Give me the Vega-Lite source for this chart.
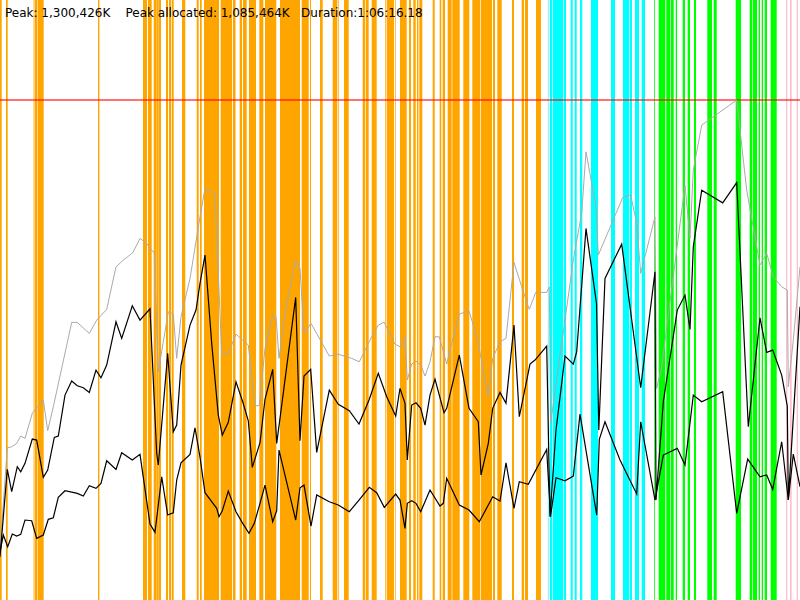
{
  "$schema": "https://vega.github.io/schema/vega-lite/v6.json",
  "width": 800,
  "height": 600,
  "autosize": {"type": "none"},
  "padding": 0,
  "background": "white",
  "config": {"view": {"stroke": null}},
  "datasets": {
    "bars": [
      {"start": 0, "end": 1.7, "phase": "phase1"},
      {"start": 6, "end": 7.7, "phase": "phase1"},
      {"start": 33.6, "end": 34.3, "phase": "phase1"},
      {"start": 34.7, "end": 37.3, "phase": "phase1"},
      {"start": 37.7, "end": 43.7, "phase": "phase1"},
      {"start": 98, "end": 99.4, "phase": "phase1"},
      {"start": 143, "end": 147, "phase": "phase1"},
      {"start": 148, "end": 151.7, "phase": "phase1"},
      {"start": 153.7, "end": 156.7, "phase": "phase1"},
      {"start": 157, "end": 158.7, "phase": "phase1"},
      {"start": 159, "end": 161, "phase": "phase1"},
      {"start": 166, "end": 168, "phase": "phase1"},
      {"start": 169, "end": 171, "phase": "phase1"},
      {"start": 171.7, "end": 173.7, "phase": "phase1"},
      {"start": 182, "end": 185.3, "phase": "phase1"},
      {"start": 196.7, "end": 198.7, "phase": "phase1"},
      {"start": 200, "end": 201.7, "phase": "phase1"},
      {"start": 204, "end": 219, "phase": "phase1"},
      {"start": 220.7, "end": 232, "phase": "phase1"},
      {"start": 232.9, "end": 235.5, "phase": "phase1"},
      {"start": 239.7, "end": 242, "phase": "phase1"},
      {"start": 243, "end": 246.7, "phase": "phase1"},
      {"start": 249, "end": 256, "phase": "phase1"},
      {"start": 259.3, "end": 263.3, "phase": "phase1"},
      {"start": 265, "end": 276.3, "phase": "phase1"},
      {"start": 280, "end": 300, "phase": "phase1"},
      {"start": 301.7, "end": 308.7, "phase": "phase1"},
      {"start": 310, "end": 311, "phase": "phase1"},
      {"start": 320, "end": 322.7, "phase": "phase1"},
      {"start": 332.7, "end": 337.3, "phase": "phase1"},
      {"start": 338, "end": 338.7, "phase": "phase1"},
      {"start": 344, "end": 348.7, "phase": "phase1"},
      {"start": 362.7, "end": 365, "phase": "phase1"},
      {"start": 365.7, "end": 368.7, "phase": "phase1"},
      {"start": 371.7, "end": 376.7, "phase": "phase1"},
      {"start": 385.2, "end": 385.9, "phase": "phase1"},
      {"start": 386.7, "end": 394, "phase": "phase1"},
      {"start": 395, "end": 395.7, "phase": "phase1"},
      {"start": 400, "end": 406.7, "phase": "phase1"},
      {"start": 409, "end": 411, "phase": "phase1"},
      {"start": 413.3, "end": 415.7, "phase": "phase1"},
      {"start": 417, "end": 418.4, "phase": "phase1"},
      {"start": 419.3, "end": 422.3, "phase": "phase1"},
      {"start": 432.7, "end": 434.7, "phase": "phase1"},
      {"start": 439.7, "end": 441.3, "phase": "phase1"},
      {"start": 442.7, "end": 445, "phase": "phase1"},
      {"start": 447.7, "end": 451.7, "phase": "phase1"},
      {"start": 452.3, "end": 459.7, "phase": "phase1"},
      {"start": 463.3, "end": 469.3, "phase": "phase1"},
      {"start": 472.3, "end": 480, "phase": "phase1"},
      {"start": 480.7, "end": 492, "phase": "phase1"},
      {"start": 493, "end": 495, "phase": "phase1"},
      {"start": 497.3, "end": 501.7, "phase": "phase1"},
      {"start": 512, "end": 514, "phase": "phase1"},
      {"start": 521.7, "end": 524, "phase": "phase1"},
      {"start": 525, "end": 528, "phase": "phase1"},
      {"start": 536, "end": 541, "phase": "phase1"},
      {"start": 547.9, "end": 548.5, "phase": "phase2"},
      {"start": 550, "end": 552, "phase": "phase2"},
      {"start": 552.7, "end": 563.3, "phase": "phase2"},
      {"start": 564, "end": 566, "phase": "phase2"},
      {"start": 570.7, "end": 572.7, "phase": "phase2"},
      {"start": 574.7, "end": 576.7, "phase": "phase2"},
      {"start": 580, "end": 582.3, "phase": "phase2"},
      {"start": 591, "end": 598, "phase": "phase2"},
      {"start": 611, "end": 615, "phase": "phase2"},
      {"start": 623, "end": 629.3, "phase": "phase2"},
      {"start": 630, "end": 632, "phase": "phase2"},
      {"start": 635, "end": 639, "phase": "phase2"},
      {"start": 641.7, "end": 645, "phase": "phase2"},
      {"start": 654.2, "end": 655, "phase": "phase3"},
      {"start": 658.7, "end": 665.3, "phase": "phase3"},
      {"start": 666.3, "end": 670.3, "phase": "phase3"},
      {"start": 671, "end": 673.7, "phase": "phase3"},
      {"start": 675.7, "end": 677, "phase": "phase3"},
      {"start": 682.7, "end": 685, "phase": "phase3"},
      {"start": 687.7, "end": 690, "phase": "phase3"},
      {"start": 694, "end": 696, "phase": "phase3"},
      {"start": 707.3, "end": 712, "phase": "phase3"},
      {"start": 713.7, "end": 716.7, "phase": "phase3"},
      {"start": 735.7, "end": 741, "phase": "phase3"},
      {"start": 749.7, "end": 752, "phase": "phase3"},
      {"start": 752.7, "end": 757, "phase": "phase3"},
      {"start": 758.7, "end": 760, "phase": "phase3"},
      {"start": 761.7, "end": 763, "phase": "phase3"},
      {"start": 764.7, "end": 767, "phase": "phase3"},
      {"start": 770.7, "end": 776.7, "phase": "phase3"},
      {"start": 786, "end": 787.3, "phase": "phase4"},
      {"start": 790, "end": 791.7, "phase": "phase4"},
      {"start": 796.7, "end": 798, "phase": "phase4"}
    ],
    "memory": [
      {"series": "peak", "t": 0, "mem": 130},
      {"series": "peak", "t": 7.3, "mem": 396.0},
      {"series": "peak", "t": 11.7, "mem": 398.6},
      {"series": "peak", "t": 16.7, "mem": 407.4},
      {"series": "peak", "t": 20.7, "mem": 426.4},
      {"series": "peak", "t": 25, "mem": 420.4},
      {"series": "peak", "t": 32.3, "mem": 485.4},
      {"series": "peak", "t": 37.3, "mem": 502.6},
      {"series": "peak", "t": 43.3, "mem": 520},
      {"series": "peak", "t": 47.7, "mem": 440.2},
      {"series": "peak", "t": 53.3, "mem": 502.6},
      {"series": "peak", "t": 71.7, "mem": 722.0},
      {"series": "peak", "t": 77.3, "mem": 722.0},
      {"series": "peak", "t": 89.3, "mem": 693.4},
      {"series": "peak", "t": 96.7, "mem": 728},
      {"series": "peak", "t": 106.7, "mem": 755.8},
      {"series": "peak", "t": 116, "mem": 866.6},
      {"series": "peak", "t": 123.3, "mem": 884},
      {"series": "peak", "t": 132.7, "mem": 903.0},
      {"series": "peak", "t": 140, "mem": 940.4},
      {"series": "peak", "t": 146.7, "mem": 927.4},
      {"series": "peak", "t": 154.3, "mem": 901.4},
      {"series": "peak", "t": 158.3, "mem": 593.6},
      {"series": "peak", "t": 168.3, "mem": 749.6},
      {"series": "peak", "t": 173.3, "mem": 743.6},
      {"series": "peak", "t": 176.7, "mem": 628.4},
      {"series": "peak", "t": 181, "mem": 736.6},
      {"series": "peak", "t": 190, "mem": 836.4},
      {"series": "peak", "t": 200, "mem": 996.6},
      {"series": "peak", "t": 205, "mem": 1070.4},
      {"series": "peak", "t": 215, "mem": 1055.6},
      {"series": "peak", "t": 221.7, "mem": 638.8},
      {"series": "peak", "t": 228.3, "mem": 641.4},
      {"series": "peak", "t": 236, "mem": 691.6},
      {"series": "peak", "t": 248.3, "mem": 663},
      {"series": "peak", "t": 255, "mem": 504.4},
      {"series": "peak", "t": 259.3, "mem": 506.2},
      {"series": "peak", "t": 265, "mem": 654.4},
      {"series": "peak", "t": 272.7, "mem": 741},
      {"series": "peak", "t": 276, "mem": 736.6},
      {"series": "peak", "t": 279, "mem": 628.4},
      {"series": "peak", "t": 285, "mem": 745.4},
      {"series": "peak", "t": 295.7, "mem": 884},
      {"series": "peak", "t": 300, "mem": 862.4},
      {"series": "peak", "t": 304, "mem": 693.4},
      {"series": "peak", "t": 311, "mem": 719.4},
      {"series": "peak", "t": 329.3, "mem": 634.4},
      {"series": "peak", "t": 337.7, "mem": 639.6},
      {"series": "peak", "t": 351.7, "mem": 628.4},
      {"series": "peak", "t": 359.3, "mem": 619.6},
      {"series": "peak", "t": 371.7, "mem": 684.6},
      {"series": "peak", "t": 378.3, "mem": 715},
      {"series": "peak", "t": 384, "mem": 722.8},
      {"series": "peak", "t": 395, "mem": 665.6},
      {"series": "peak", "t": 400, "mem": 658.6},
      {"series": "peak", "t": 405, "mem": 683.0},
      {"series": "peak", "t": 407.3, "mem": 572},
      {"series": "peak", "t": 411.7, "mem": 613.6},
      {"series": "peak", "t": 416, "mem": 621.4},
      {"series": "peak", "t": 420.7, "mem": 611},
      {"series": "peak", "t": 425, "mem": 582.4},
      {"series": "peak", "t": 430, "mem": 619.6},
      {"series": "peak", "t": 435, "mem": 684.6},
      {"series": "peak", "t": 439.3, "mem": 684.6},
      {"series": "peak", "t": 446.7, "mem": 613.6},
      {"series": "peak", "t": 451.7, "mem": 667.4},
      {"series": "peak", "t": 459.3, "mem": 743.6},
      {"series": "peak", "t": 469, "mem": 752.2},
      {"series": "peak", "t": 477.7, "mem": 676},
      {"series": "peak", "t": 488.3, "mem": 528.6},
      {"series": "peak", "t": 492.7, "mem": 628.4},
      {"series": "peak", "t": 500, "mem": 671.6},
      {"series": "peak", "t": 506, "mem": 680.4},
      {"series": "peak", "t": 514, "mem": 878.0},
      {"series": "peak", "t": 521.7, "mem": 814.6},
      {"series": "peak", "t": 529.3, "mem": 755.8},
      {"series": "peak", "t": 535.7, "mem": 800.0},
      {"series": "peak", "t": 546.7, "mem": 800.0},
      {"series": "peak", "t": 549.3, "mem": 814.6},
      {"series": "peak", "t": 550.7, "mem": 460.2},
      {"series": "peak", "t": 573.3, "mem": 884},
      {"series": "peak", "t": 581.7, "mem": 1006.2},
      {"series": "peak", "t": 586, "mem": 1165.6},
      {"series": "peak", "t": 596, "mem": 1021.8},
      {"series": "peak", "t": 598.3, "mem": 897},
      {"series": "peak", "t": 622.7, "mem": 1047.0},
      {"series": "peak", "t": 630.7, "mem": 1053},
      {"series": "peak", "t": 636.7, "mem": 979.4},
      {"series": "peak", "t": 640.7, "mem": 849.4},
      {"series": "peak", "t": 655, "mem": 996.6},
      {"series": "peak", "t": 656.7, "mem": 550.4},
      {"series": "peak", "t": 661.7, "mem": 606.6},
      {"series": "peak", "t": 685, "mem": 1079},
      {"series": "peak", "t": 690, "mem": 940.4},
      {"series": "peak", "t": 693.3, "mem": 1118},
      {"series": "peak", "t": 701.7, "mem": 1235},
      {"series": "peak", "t": 736.7, "mem": 1300.4},
      {"series": "peak", "t": 746.7, "mem": 1066},
      {"series": "peak", "t": 760, "mem": 871},
      {"series": "peak", "t": 766.7, "mem": 901.4},
      {"series": "peak", "t": 773.3, "mem": 840.6},
      {"series": "peak", "t": 781.7, "mem": 814.6},
      {"series": "peak", "t": 787.3, "mem": 806},
      {"series": "peak", "t": 788.3, "mem": 554.6},
      {"series": "peak", "t": 793.3, "mem": 676},
      {"series": "peak", "t": 800, "mem": 866.6},

      {"series": "allocated", "t": 0, "mem": 112.6},
      {"series": "allocated", "t": 7.3, "mem": 339.8},
      {"series": "allocated", "t": 11.7, "mem": 281.6},
      {"series": "allocated", "t": 17.3, "mem": 346.6},
      {"series": "allocated", "t": 20.7, "mem": 333.6},
      {"series": "allocated", "t": 25, "mem": 355.4},
      {"series": "allocated", "t": 32.3, "mem": 418.6},
      {"series": "allocated", "t": 36.7, "mem": 416},
      {"series": "allocated", "t": 43.3, "mem": 319.0},
      {"series": "allocated", "t": 47.7, "mem": 338},
      {"series": "allocated", "t": 54.3, "mem": 423.0},
      {"series": "allocated", "t": 58.3, "mem": 426.4},
      {"series": "allocated", "t": 65, "mem": 533},
      {"series": "allocated", "t": 71.7, "mem": 569.4},
      {"series": "allocated", "t": 77.3, "mem": 557.2},
      {"series": "allocated", "t": 83.3, "mem": 552.0},
      {"series": "allocated", "t": 89.3, "mem": 540.0},
      {"series": "allocated", "t": 96, "mem": 598},
      {"series": "allocated", "t": 101, "mem": 578.0},
      {"series": "allocated", "t": 106.7, "mem": 611},
      {"series": "allocated", "t": 116, "mem": 723.6},
      {"series": "allocated", "t": 121.7, "mem": 680.4},
      {"series": "allocated", "t": 132.3, "mem": 765.2},
      {"series": "allocated", "t": 140, "mem": 728},
      {"series": "allocated", "t": 150, "mem": 757.4},
      {"series": "allocated", "t": 156.7, "mem": 381.4},
      {"series": "allocated", "t": 158.3, "mem": 351},
      {"series": "allocated", "t": 167.7, "mem": 641.4},
      {"series": "allocated", "t": 173.3, "mem": 437.6},
      {"series": "allocated", "t": 176.7, "mem": 455},
      {"series": "allocated", "t": 181, "mem": 611},
      {"series": "allocated", "t": 190, "mem": 715},
      {"series": "allocated", "t": 196, "mem": 754},
      {"series": "allocated", "t": 200, "mem": 823.4},
      {"series": "allocated", "t": 205, "mem": 897},
      {"series": "allocated", "t": 211.7, "mem": 667.4},
      {"series": "allocated", "t": 218.3, "mem": 481},
      {"series": "allocated", "t": 222.3, "mem": 429},
      {"series": "allocated", "t": 228.3, "mem": 462.0},
      {"series": "allocated", "t": 236, "mem": 567.6},
      {"series": "allocated", "t": 242.7, "mem": 515.6},
      {"series": "allocated", "t": 248.3, "mem": 466.2},
      {"series": "allocated", "t": 252.3, "mem": 345.0},
      {"series": "allocated", "t": 260, "mem": 409.0},
      {"series": "allocated", "t": 265, "mem": 521.8},
      {"series": "allocated", "t": 272.7, "mem": 599.8},
      {"series": "allocated", "t": 276.7, "mem": 407.4},
      {"series": "allocated", "t": 280, "mem": 472.4},
      {"series": "allocated", "t": 295.7, "mem": 787.0},
      {"series": "allocated", "t": 300, "mem": 414.2},
      {"series": "allocated", "t": 304, "mem": 582.4},
      {"series": "allocated", "t": 310.7, "mem": 599.8},
      {"series": "allocated", "t": 316.7, "mem": 384.0},
      {"series": "allocated", "t": 329.3, "mem": 546},
      {"series": "allocated", "t": 338.3, "mem": 508.8},
      {"series": "allocated", "t": 349.3, "mem": 492.2},
      {"series": "allocated", "t": 359, "mem": 457.6},
      {"series": "allocated", "t": 369, "mem": 520},
      {"series": "allocated", "t": 378.3, "mem": 589.4},
      {"series": "allocated", "t": 386.7, "mem": 528.6},
      {"series": "allocated", "t": 395.7, "mem": 478.4},
      {"series": "allocated", "t": 400, "mem": 550.4},
      {"series": "allocated", "t": 405, "mem": 511.4},
      {"series": "allocated", "t": 407.3, "mem": 364},
      {"series": "allocated", "t": 411.7, "mem": 507},
      {"series": "allocated", "t": 416, "mem": 513.0},
      {"series": "allocated", "t": 420.7, "mem": 498.4},
      {"series": "allocated", "t": 425, "mem": 455},
      {"series": "allocated", "t": 430, "mem": 533},
      {"series": "allocated", "t": 435, "mem": 574.6},
      {"series": "allocated", "t": 444, "mem": 487.0},
      {"series": "allocated", "t": 446.7, "mem": 498.4},
      {"series": "allocated", "t": 459.3, "mem": 637},
      {"series": "allocated", "t": 469, "mem": 498.4},
      {"series": "allocated", "t": 478.3, "mem": 463.6},
      {"series": "allocated", "t": 481, "mem": 325},
      {"series": "allocated", "t": 488.3, "mem": 407.4},
      {"series": "allocated", "t": 492.7, "mem": 498.4},
      {"series": "allocated", "t": 500, "mem": 540.0},
      {"series": "allocated", "t": 506, "mem": 511.4},
      {"series": "allocated", "t": 514, "mem": 715},
      {"series": "allocated", "t": 519.3, "mem": 476.6},
      {"series": "allocated", "t": 530, "mem": 613.6},
      {"series": "allocated", "t": 535, "mem": 624},
      {"series": "allocated", "t": 546.7, "mem": 660.4},
      {"series": "allocated", "t": 550, "mem": 216.6},
      {"series": "allocated", "t": 556, "mem": 442},
      {"series": "allocated", "t": 565, "mem": 634.4},
      {"series": "allocated", "t": 573.3, "mem": 613.6},
      {"series": "allocated", "t": 576.7, "mem": 645.6},
      {"series": "allocated", "t": 586, "mem": 966.4},
      {"series": "allocated", "t": 596.5, "mem": 771.4},
      {"series": "allocated", "t": 598.8, "mem": 442},
      {"series": "allocated", "t": 605, "mem": 836.4},
      {"series": "allocated", "t": 621.7, "mem": 925.6},
      {"series": "allocated", "t": 640.7, "mem": 552.0},
      {"series": "allocated", "t": 655, "mem": 853.6},
      {"series": "allocated", "t": 656, "mem": 260},
      {"series": "allocated", "t": 663.3, "mem": 515.6},
      {"series": "allocated", "t": 677.3, "mem": 754},
      {"series": "allocated", "t": 685, "mem": 793},
      {"series": "allocated", "t": 690, "mem": 703.8},
      {"series": "allocated", "t": 693.3, "mem": 918.6},
      {"series": "allocated", "t": 701.7, "mem": 1066},
      {"series": "allocated", "t": 722.7, "mem": 1033.0},
      {"series": "allocated", "t": 736.7, "mem": 1085.464},
      {"series": "allocated", "t": 748.3, "mem": 450.6},
      {"series": "allocated", "t": 760, "mem": 734.0},
      {"series": "allocated", "t": 766.7, "mem": 644.0},
      {"series": "allocated", "t": 772.7, "mem": 650},
      {"series": "allocated", "t": 781.7, "mem": 585},
      {"series": "allocated", "t": 787.3, "mem": 504.4},
      {"series": "allocated", "t": 788.3, "mem": 260},
      {"series": "allocated", "t": 800, "mem": 762.6},

      {"series": "live", "t": 0, "mem": 124.8},
      {"series": "live", "t": 3.3, "mem": 169},
      {"series": "live", "t": 7.7, "mem": 138.6},
      {"series": "live", "t": 12.3, "mem": 171.6},
      {"series": "live", "t": 16.7, "mem": 166.4},
      {"series": "live", "t": 20.7, "mem": 170.8},
      {"series": "live", "t": 25, "mem": 208},
      {"series": "live", "t": 31.7, "mem": 206.2},
      {"series": "live", "t": 36.7, "mem": 160.4},
      {"series": "live", "t": 43.3, "mem": 169},
      {"series": "live", "t": 48.3, "mem": 209.8},
      {"series": "live", "t": 53.3, "mem": 214.0},
      {"series": "live", "t": 58.3, "mem": 267.0},
      {"series": "live", "t": 65, "mem": 284.2},
      {"series": "live", "t": 77.3, "mem": 277.4},
      {"series": "live", "t": 83.3, "mem": 270.4},
      {"series": "live", "t": 89.3, "mem": 297.2},
      {"series": "live", "t": 96, "mem": 290.4},
      {"series": "live", "t": 101, "mem": 303.4},
      {"series": "live", "t": 106.7, "mem": 362.2},
      {"series": "live", "t": 116, "mem": 339.8},
      {"series": "live", "t": 121.7, "mem": 383.0},
      {"series": "live", "t": 132.3, "mem": 364},
      {"series": "live", "t": 140, "mem": 378.8},
      {"series": "live", "t": 150, "mem": 197.6},
      {"series": "live", "t": 155, "mem": 176.0},
      {"series": "live", "t": 161.7, "mem": 320.6},
      {"series": "live", "t": 167.7, "mem": 221},
      {"series": "live", "t": 173.3, "mem": 227.0},
      {"series": "live", "t": 176.7, "mem": 312},
      {"series": "live", "t": 181, "mem": 357.0},
      {"series": "live", "t": 190, "mem": 378.8},
      {"series": "live", "t": 195, "mem": 448.0},
      {"series": "live", "t": 200, "mem": 371.8},
      {"series": "live", "t": 205, "mem": 279.0},
      {"series": "live", "t": 211.7, "mem": 255.6},
      {"series": "live", "t": 216.7, "mem": 238.4},
      {"series": "live", "t": 219, "mem": 216.6},
      {"series": "live", "t": 222.3, "mem": 232.2},
      {"series": "live", "t": 228.3, "mem": 283.4},
      {"series": "live", "t": 236, "mem": 229.6},
      {"series": "live", "t": 242.7, "mem": 199.4},
      {"series": "live", "t": 249, "mem": 173.4},
      {"series": "live", "t": 254.3, "mem": 199.4},
      {"series": "live", "t": 260, "mem": 251.4},
      {"series": "live", "t": 265, "mem": 299},
      {"series": "live", "t": 272.7, "mem": 203.6},
      {"series": "live", "t": 276.7, "mem": 232.2},
      {"series": "live", "t": 279, "mem": 390},
      {"series": "live", "t": 295.7, "mem": 208},
      {"series": "live", "t": 300, "mem": 292.0},
      {"series": "live", "t": 304, "mem": 299},
      {"series": "live", "t": 311, "mem": 192.4},
      {"series": "live", "t": 316.7, "mem": 273},
      {"series": "live", "t": 329.3, "mem": 255.6},
      {"series": "live", "t": 338.3, "mem": 247},
      {"series": "live", "t": 349.3, "mem": 229.6},
      {"series": "live", "t": 359, "mem": 260},
      {"series": "live", "t": 369.3, "mem": 293.0},
      {"series": "live", "t": 376.7, "mem": 279.0},
      {"series": "live", "t": 384.3, "mem": 241.0},
      {"series": "live", "t": 395.7, "mem": 275.6},
      {"series": "live", "t": 400, "mem": 260},
      {"series": "live", "t": 405, "mem": 186.4},
      {"series": "live", "t": 407.3, "mem": 251.4},
      {"series": "live", "t": 411.7, "mem": 258.2},
      {"series": "live", "t": 416, "mem": 251.4},
      {"series": "live", "t": 420.7, "mem": 229.6},
      {"series": "live", "t": 430, "mem": 286},
      {"series": "live", "t": 440, "mem": 244.4},
      {"series": "live", "t": 443.3, "mem": 251.4},
      {"series": "live", "t": 446.7, "mem": 316.4},
      {"series": "live", "t": 459.3, "mem": 247},
      {"series": "live", "t": 469, "mem": 234},
      {"series": "live", "t": 479.3, "mem": 203.6},
      {"series": "live", "t": 488.3, "mem": 247},
      {"series": "live", "t": 492.7, "mem": 268.6},
      {"series": "live", "t": 500, "mem": 257.4},
      {"series": "live", "t": 506, "mem": 357.0},
      {"series": "live", "t": 514, "mem": 238.4},
      {"series": "live", "t": 519.3, "mem": 307.6},
      {"series": "live", "t": 528.3, "mem": 300.8},
      {"series": "live", "t": 546.7, "mem": 391.8},
      {"series": "live", "t": 550.5, "mem": 216.6},
      {"series": "live", "t": 556, "mem": 318.0},
      {"series": "live", "t": 565, "mem": 310.2},
      {"series": "live", "t": 573.3, "mem": 322.4},
      {"series": "live", "t": 580, "mem": 483.6},
      {"series": "live", "t": 596.7, "mem": 221},
      {"series": "live", "t": 599.3, "mem": 417.8},
      {"series": "live", "t": 605, "mem": 463.6},
      {"series": "live", "t": 620, "mem": 364},
      {"series": "live", "t": 636.7, "mem": 275.6},
      {"series": "live", "t": 640.7, "mem": 463.6},
      {"series": "live", "t": 655, "mem": 260},
      {"series": "live", "t": 663.3, "mem": 377},
      {"series": "live", "t": 677.3, "mem": 394.4},
      {"series": "live", "t": 685, "mem": 351},
      {"series": "live", "t": 693.3, "mem": 533},
      {"series": "live", "t": 701.7, "mem": 515.6},
      {"series": "live", "t": 722.7, "mem": 541.6},
      {"series": "live", "t": 736.7, "mem": 225.4},
      {"series": "live", "t": 747.7, "mem": 366.6},
      {"series": "live", "t": 760, "mem": 320.6},
      {"series": "live", "t": 766.7, "mem": 325},
      {"series": "live", "t": 772.7, "mem": 287.8},
      {"series": "live", "t": 781.7, "mem": 411.6},
      {"series": "live", "t": 788.3, "mem": 260},
      {"series": "live", "t": 793.3, "mem": 379.6},
      {"series": "live", "t": 800, "mem": 294.6}
    ],
    "limits": [
      {"mem": 1300.426}
    ],
    "summary": [
      {"label": "Peak: 1,300,426K \u00a0\u00a0\u00a0Peak allocated: 1,085,464K \u00a0\u00a0Duration:1:06:16.18"}
    ]
  },
  "layer": [
    {
      "data": {"name": "bars"},
      "mark": {"type": "rect", "strokeWidth": 0},
      "encoding": {
        "x": {
          "field": "start",
          "type": "quantitative",
          "scale": {"domain": [0, 800], "nice": false, "zero": false},
          "axis": null
        },
        "x2": {"field": "end"},
        "y": {
          "datum": 0,
          "type": "quantitative",
          "scale": {"domain": [0, 1560.51], "nice": false, "zero": true},
          "axis": null
        },
        "y2": {"datum": 1560.51},
        "color": {
          "field": "phase",
          "type": "nominal",
          "scale": {
            "domain": ["phase1", "phase2", "phase3", "phase4"],
            "range": ["#ffa500", "#00ffff", "#00ff00", "#ffc0cb"]
          },
          "legend": null
        }
      }
    },
    {
      "data": {"name": "limits"},
      "mark": {"type": "rule", "color": "#ff0000", "strokeWidth": 2, "opacity": 0.55},
      "encoding": {
        "y": {"field": "mem", "type": "quantitative", "axis": null}
      }
    },
    {
      "data": {"name": "memory"},
      "transform": [{"filter": "datum.series === 'peak'"}],
      "mark": {"type": "line", "color": "#aaaaaa", "strokeWidth": 1},
      "encoding": {
        "x": {"field": "t", "type": "quantitative", "axis": null},
        "y": {"field": "mem", "type": "quantitative", "axis": null}
      }
    },
    {
      "data": {"name": "memory"},
      "transform": [{"filter": "datum.series !== 'peak'"}],
      "mark": {"type": "line", "color": "black", "strokeWidth": 1.2},
      "encoding": {
        "x": {"field": "t", "type": "quantitative", "axis": null},
        "y": {"field": "mem", "type": "quantitative", "axis": null},
        "detail": {"field": "series", "type": "nominal"}
      }
    },
    {
      "data": {"name": "summary"},
      "mark": {
        "type": "text",
        "align": "left",
        "baseline": "alphabetic",
        "font": "DejaVu Sans",
        "fontSize": 12,
        "color": "black",
        "dx": 5,
        "dy": 17
      },
      "encoding": {
        "x": {"datum": 0, "type": "quantitative"},
        "y": {"datum": 1560.51, "type": "quantitative"},
        "text": {"field": "label"}
      }
    }
  ]
}
